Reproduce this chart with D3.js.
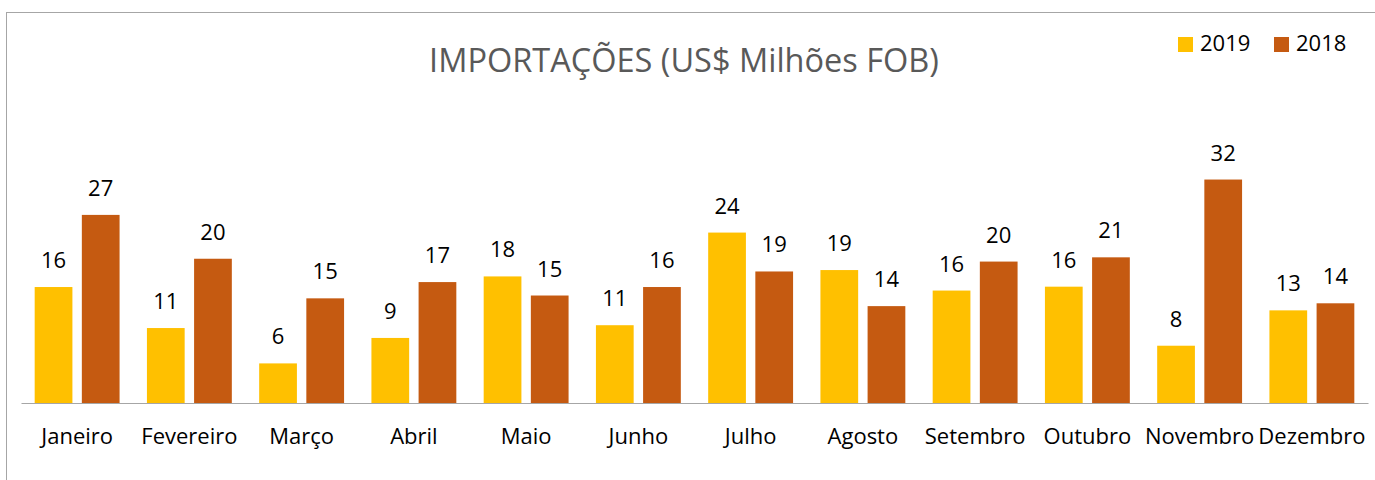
<!DOCTYPE html>
<html>
<head>
<meta charset="utf-8">
<script src="https://cdn.jsdelivr.net/npm/d3@7"></script>
<style>
  html, body { margin: 0; padding: 0; background: #fff; }
  svg { display: block; font-family: "Open Sans", sans-serif; }
</style>
</head>
<body>
<svg id="chart" width="1375" height="480"></svg>
<script>
const months = ["Janeiro","Fevereiro","Março","Abril","Maio","Junho","Julho","Agosto","Setembro","Outubro","Novembro","Dezembro"];
const seriesNames = ["2019","2018"];
const values2019 = [16.4, 10.6, 5.6, 9.2, 17.9, 11.0, 24.1, 18.8, 15.9, 16.45, 8.1, 13.1];
const values2018 = [26.6, 20.4, 14.8, 17.1, 15.2, 16.4, 18.6, 13.7, 20.0, 20.6, 31.6, 14.1];
const colors = ["#FFC000", "#C55A11"];
const title = "IMPORTAÇÕES (US$ Milhões FOB)";

const svg = d3.select("#chart");
const W = 1375, H = 480;

// outer chart border (extends beyond visible area on right/bottom)
svg.append("rect")
  .attr("x", 6.5).attr("y", 12.5)
  .attr("width", W).attr("height", H)
  .attr("fill", "none").attr("stroke", "#a6a6a6").attr("stroke-width", 1);

const plot = { left: 21, right: 1368, top: 155.5, bottom: 403 };

const x0 = d3.scaleBand().domain(months).range([plot.left, plot.right]).paddingInner(0).paddingOuter(0);
const x1 = d3.scaleBand().domain(seriesNames).range([0, x0.bandwidth()]).paddingInner(0.2).paddingOuter(0.29);
const y = d3.scaleLinear().domain([0, 35]).range([plot.bottom, plot.top]);
const color = d3.scaleOrdinal().domain(seriesNames).range(colors);

const data = months.map((m, i) => ({ month: m, vals: [
  { s: "2019", v: values2019[i] },
  { s: "2018", v: values2018[i] }
]}));

const fmt = d3.format(".0f");

const groups = svg.append("g").selectAll("g").data(data).join("g")
  .attr("transform", d => `translate(${x0(d.month)},0)`);

groups.selectAll("rect").data(d => d.vals).join("rect")
  .attr("x", d => x1(d.s))
  .attr("y", d => y(d.v))
  .attr("width", x1.bandwidth())
  .attr("height", d => y(0) - y(d.v))
  .attr("fill", d => color(d.s));

groups.selectAll("text.lbl").data(d => d.vals).join("text")
  .attr("class", "lbl")
  .attr("x", d => x1(d.s) + x1.bandwidth() / 2)
  .attr("y", d => y(d.v) - 19)
  .attr("text-anchor", "middle")
  .attr("font-size", 22)
  .attr("fill", "#000")
  .text(d => fmt(d.v));

// x axis
const xAxis = d3.axisBottom(x0).tickSize(0).tickPadding(0).tickSizeOuter(0);
const axisG = svg.append("g").attr("transform", `translate(0,${plot.bottom})`).call(xAxis);
axisG.select(".domain").attr("stroke", "#a6a6a6").attr("stroke-width", 1.2);
axisG.selectAll(".tick text")
  .attr("font-family", "'Open Sans', sans-serif")
  .attr("font-size", 22)
  .attr("fill", "#000")
  .attr("dy", null)
  .attr("y", 41);

// title
svg.append("text")
  .attr("x", 684).attr("y", 72)
  .attr("text-anchor", "middle")
  .attr("font-size", 32.5)
  .attr("fill", "#595959")
  .text(title);

// legend
const legendX = d3.scaleOrdinal().domain(seriesNames).range([1178, 1274]);
const lg = svg.append("g").selectAll("g").data(seriesNames).join("g")
  .attr("transform", d => `translate(${legendX(d)},37)`);
lg.append("rect").attr("width", 15).attr("height", 15).attr("fill", d => color(d));
lg.append("text").attr("x", 22).attr("y", 13.5)
  .attr("font-size", 22).attr("fill", "#000").text(d => d);
</script>
</body>
</html>
